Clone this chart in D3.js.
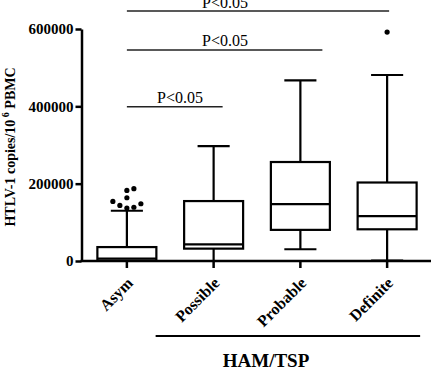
<!DOCTYPE html>
<html>
<head>
<meta charset="utf-8">
<script src="https://d3js.org/d3.v7.min.js"></script>
<style>
  body { margin: 0; background: #fff; }
  text { font-family: "Times New Roman", "Liberation Serif", serif; }
</style>
</head>
<body>
<div id="chart"></div>
<script>

// data
var categories   = ["Asym", "Possible", "Probable", "Definite"];
var whiskerLow   = [0, 0, 30400, 1000];
var q1           = [1000, 32000, 80500, 82000];
var median       = [6000, 43000, 147000, 116000];
var q3           = [36000, 155000, 256000, 203000];
var whiskerHigh  = [130000, 297000, 467000, 481000];
var outliers     = [[137000, 139000, 143600, 148000, 154000, 163600, 182500, 187000], [], [], [592000]];
var yTicks       = [0, 200000, 400000, 600000];
var comparisons  = [
  {from: "Asym", to: "Possible", level: 399000, label: "P<0.05"},
  {from: "Asym", to: "Probable", level: 546000, label: "P<0.05"},
  {from: "Asym", to: "Definite", level: 646500, label: "P<0.05"}
];
var groupLabel = "HAM/TSP";

var W = 432, H = 370;
var svg = d3.select("#chart").append("svg")
    .attr("width", W).attr("height", H);

var x = d3.scaleBand().domain(categories).range([83.5, 430.5]);
var y = d3.scaleLinear().domain([0, 600000]).range([261, 29]);
var cx = function(c) { return x(c) + x.bandwidth() / 2; };
var boxW = x.bandwidth() * 0.68, capW = x.bandwidth() * 0.37;

// y axis
var yAxis = svg.append("g")
    .attr("transform", "translate(81.5,0)")
    .call(d3.axisLeft(y).tickValues(yTicks).tickFormat(d3.format("d")).tickSize(6).tickSizeOuter(0).tickPadding(2));
yAxis.selectAll("path, line").attr("stroke", "#000").attr("stroke-width", 2.5);
yAxis.selectAll("text").attr("font-size", 15).attr("font-weight", "bold")
    .style("font-family", "'Times New Roman', 'Liberation Serif', serif");

// x axis
svg.append("line").attr("x1", 80.5).attr("x2", 431).attr("y1", 261).attr("y2", 261)
    .attr("stroke", "#000").attr("stroke-width", 2.5);
var xAxis = svg.append("g")
    .attr("transform", "translate(0,261)")
    .call(d3.axisBottom(x).tickSize(7).tickFormat(""));
xAxis.select(".domain").remove();
xAxis.selectAll("line").attr("stroke", "#000").attr("stroke-width", 2.5);

// category labels
svg.selectAll(".cat").data(categories).enter().append("text")
    .attr("class", "cat")
    .attr("transform", function(d) { return "translate(" + (cx(d) + 7) + ",284) rotate(-45)"; })
    .attr("text-anchor", "end")
    .attr("font-size", 16).attr("font-weight", "bold")
    .text(function(d) { return d; });

// boxes
var boxes = svg.selectAll(".box").data(categories).enter().append("g").attr("class", "box");
boxes.each(function(c, i) {
  var g = d3.select(this), m = cx(c);
  g.append("line").attr("x1", m).attr("x2", m).attr("y1", y(q3[i])).attr("y2", y(whiskerHigh[i]));
  g.append("line").attr("x1", m).attr("x2", m).attr("y1", y(q1[i])).attr("y2", y(whiskerLow[i]));
  g.append("line").attr("x1", m - capW / 2).attr("x2", m + capW / 2).attr("y1", y(whiskerHigh[i])).attr("y2", y(whiskerHigh[i]));
  g.append("line").attr("x1", m - capW / 2).attr("x2", m + capW / 2).attr("y1", y(whiskerLow[i])).attr("y2", y(whiskerLow[i]));
  g.append("rect").attr("x", m - boxW / 2).attr("width", boxW)
    .attr("y", y(q3[i])).attr("height", y(q1[i]) - y(q3[i])).attr("fill", "#fff");
  g.append("line").attr("x1", m - boxW / 2).attr("x2", m + boxW / 2).attr("y1", y(median[i])).attr("y2", y(median[i]));

  // outliers, spread sideways like a small swarm
  var r = 2.6, placed = [];
  outliers[i].slice().sort(d3.ascending).forEach(function(v) {
    var py = y(v), steps = [0, 1, -1, 2, -2, 3, -3, 4, -4], k, px;
    for (k = 0; k < steps.length; k++) {
      px = m + steps[k] * 7;
      var ok = placed.every(function(p) { return Math.hypot(p[0] - px, p[1] - py) >= 2 * r + 1.5; });
      if (ok) break;
    }
    placed.push([px, py]);
  });
  g.selectAll("circle").data(placed).enter().append("circle")
    .attr("cx", function(p) { return p[0]; }).attr("cy", function(p) { return p[1]; })
    .attr("r", r).attr("fill", "#000");
});
boxes.selectAll("line, rect").attr("stroke", "#000").attr("stroke-width", 2.2);

// significance bars
var barEnd = [9, 22, 2], textAt = [180, 225, 225];
comparisons.forEach(function(c, i) {
  var ly = y(c.level);
  svg.append("line").attr("x1", cx(c.from)).attr("x2", cx(c.to) + barEnd[i])
    .attr("y1", ly).attr("y2", ly).attr("stroke", "#222").attr("stroke-width", 1.5);
  svg.append("text").attr("x", textAt[i]).attr("y", ly - 3.5)
    .attr("text-anchor", "middle").attr("font-size", 16).text(c.label);
});

// HAM/TSP group
svg.append("line").attr("x1", cx("Possible") - 58).attr("x2", cx("Definite") + 33)
  .attr("y1", 336).attr("y2", 336).attr("stroke", "#000").attr("stroke-width", 2.2);
svg.append("text").attr("x", 266).attr("y", 367).attr("text-anchor", "middle")
  .attr("font-size", 19).attr("font-weight", "bold").text(groupLabel);

// y label
var yl = svg.append("text")
  .attr("transform", "translate(15,147) rotate(-90)")
  .attr("text-anchor", "middle").attr("font-size", 14).attr("font-weight", "bold");
yl.append("tspan").text("HTLV-1 copies/10");
yl.append("tspan").attr("font-size", 10).attr("dy", -6).text(" 6");
yl.append("tspan").attr("dy", 6).text(" PBMC");

</script>
</body>
</html>
